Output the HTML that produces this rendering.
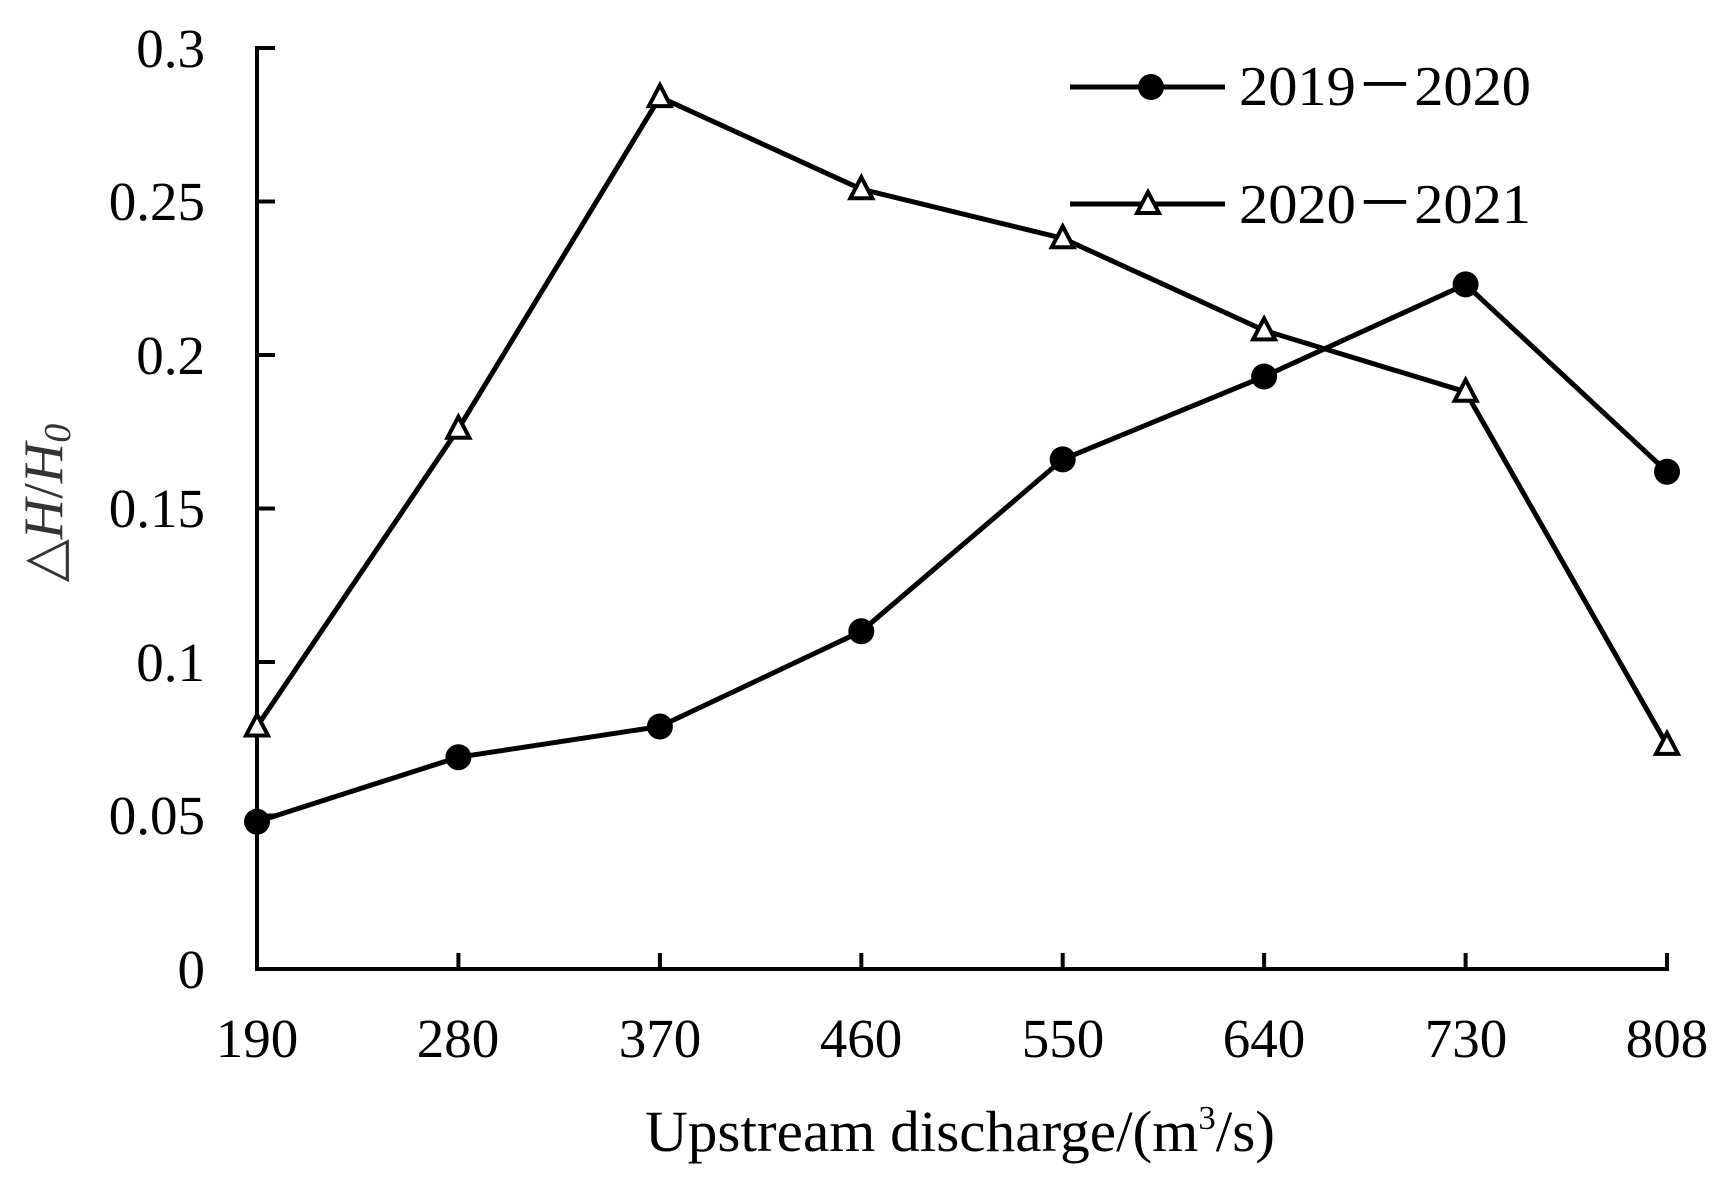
<!DOCTYPE html>
<html><head><meta charset="utf-8"><style>body{margin:0;background:#fff}</style></head><body>
<svg width="1735" height="1182" xmlns="http://www.w3.org/2000/svg" font-family="Liberation Serif, serif">
<rect width="1735" height="1182" fill="#fff"/>
<g stroke="#000" stroke-width="4" fill="none">
<path d="M275,48H257V969H1667V953"/>
<path d="M257,201.5H275M257,355H275M257,508.5H275M257,662H275M257,815.5H275"/>
<path d="M458.4,969V953M659.9,969V953M861.3,969V953M1062.7,969V953M1264.1,969V953M1465.6,969V953"/>
</g>
<g font-size="55" text-anchor="end" fill="#000">
<text x="205" y="67">0.3</text><text x="205" y="220">0.25</text><text x="205" y="374">0.2</text>
<text x="205" y="527">0.15</text><text x="205" y="681">0.1</text><text x="205" y="834">0.05</text><text x="205" y="988">0</text>
</g>
<g font-size="55" text-anchor="middle" fill="#000">
<text x="257" y="1057">190</text><text x="458" y="1057">280</text><text x="660" y="1057">370</text><text x="861" y="1057">460</text>
<text x="1063" y="1057">550</text><text x="1264" y="1057">640</text><text x="1466" y="1057">730</text><text x="1667" y="1057">808</text>
<text x="960" y="1151" textLength="630" lengthAdjust="spacingAndGlyphs" font-size="58">Upstream discharge/(m<tspan font-size="34" dy="-22">3</tspan><tspan dy="22">/s)</tspan></text>
</g>
<text transform="translate(62,503) rotate(-90)" font-size="56" text-anchor="middle" fill="#333">△<tspan font-style="italic">H</tspan>/<tspan font-style="italic">H</tspan><tspan font-size="38" dy="8" font-style="italic">0</tspan></text>
<g stroke="#000" stroke-width="5" fill="none" stroke-linejoin="round">
<polyline points="257,821.7 458.4,757.2 659.9,726.5 861.3,631.3 1062.7,459.4 1264.1,376.5 1465.6,284.4 1667,471.7"/>
<polyline points="257,726.5 458.4,428.7 659.9,97.1 861.3,189.2 1062.7,238.3 1264.1,330.4 1465.6,391.8 1667,744.9"/>
<line x1="1070" y1="87" x2="1225" y2="87"/><line x1="1070" y1="204" x2="1225" y2="204"/>
</g>
<g fill="#000">
<circle cx="257" cy="821.7" r="13"/><circle cx="458.4" cy="757.2" r="13"/><circle cx="659.9" cy="726.5" r="13"/><circle cx="861.3" cy="631.3" r="13"/>
<circle cx="1062.7" cy="459.4" r="13"/><circle cx="1264.1" cy="376.5" r="13"/><circle cx="1465.6" cy="284.4" r="13"/><circle cx="1667" cy="471.7" r="13"/>
<circle cx="1151" cy="87" r="13"/>
</g>
<g fill="#fff" stroke="#000" stroke-width="4">
<path d="M0,-12L11,9H-11Z" transform="translate(257,726.5)"/>
<path d="M0,-12L11,9H-11Z" transform="translate(458.4,428.7)"/>
<path d="M0,-12L11,9H-11Z" transform="translate(659.9,97.1)"/>
<path d="M0,-12L11,9H-11Z" transform="translate(861.3,189.2)"/>
<path d="M0,-12L11,9H-11Z" transform="translate(1062.7,238.3)"/>
<path d="M0,-12L11,9H-11Z" transform="translate(1264.1,330.4)"/>
<path d="M0,-12L11,9H-11Z" transform="translate(1465.6,391.8)"/>
<path d="M0,-12L11,9H-11Z" transform="translate(1667,744.9)"/>
<path d="M0,-12L11,9H-11Z" transform="translate(1148,204)"/>
</g>
<g font-size="56" fill="#000">
<text x="1239" y="105" textLength="292" lengthAdjust="spacingAndGlyphs">2019－2020</text>
<text x="1239" y="223" textLength="292" lengthAdjust="spacingAndGlyphs">2020－2021</text>
</g>
</svg>
</body></html>
